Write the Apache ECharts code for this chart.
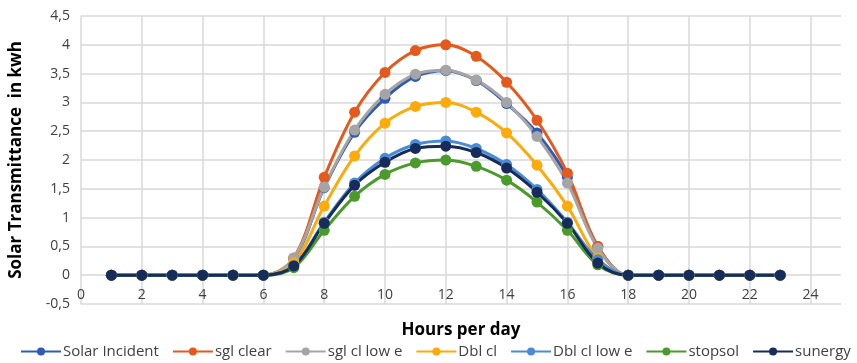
<!DOCTYPE html>
<html>
<head>
<meta charset="utf-8">
<script src="https://cdn.jsdelivr.net/npm/echarts@6/dist/echarts.min.js"></script>
<style>
  html, body { margin: 0; padding: 0; background: #fff; }
  #chart { width: 857px; height: 363px; }
</style>
</head>
<body>
<div id="chart"></div>
<script>
// Hours of the day (x values)
const hours = [1, 2, 3, 4, 5, 6, 7, 8, 9, 10, 11, 12, 13, 14, 15, 16, 17, 18, 19, 20, 21, 22, 23];

// Hourly transmitted solar energy (kWh) per glazing type
const solarIncident = [0, 0, 0, 0, 0, 0, 0.28, 1.52, 2.48, 3.07, 3.45, 3.55, 3.38, 2.98, 2.47, 1.70, 0.50, 0, 0, 0, 0, 0, 0];
const sglClear      = [0, 0, 0, 0, 0, 0, 0.30, 1.70, 2.83, 3.52, 3.90, 4.00, 3.80, 3.35, 2.69, 1.77, 0.50, 0, 0, 0, 0, 0, 0];
const sglClLowE     = [0, 0, 0, 0, 0, 0, 0.30, 1.53, 2.52, 3.14, 3.49, 3.56, 3.39, 3.00, 2.41, 1.60, 0.47, 0, 0, 0, 0, 0, 0];
const dblCl         = [0, 0, 0, 0, 0, 0, 0.22, 1.20, 2.07, 2.64, 2.93, 3.00, 2.83, 2.47, 1.91, 1.20, 0.30, 0, 0, 0, 0, 0, 0];
const dblClLowE     = [0, 0, 0, 0, 0, 0, 0.17, 0.92, 1.60, 2.03, 2.27, 2.33, 2.20, 1.92, 1.49, 0.92, 0.27, 0, 0, 0, 0, 0, 0];
const stopsol       = [0, 0, 0, 0, 0, 0, 0.13, 0.78, 1.37, 1.75, 1.95, 2.00, 1.89, 1.65, 1.27, 0.78, 0.18, 0, 0, 0, 0, 0, 0];
const sunergy       = [0, 0, 0, 0, 0, 0, 0.16, 0.90, 1.56, 1.96, 2.20, 2.24, 2.13, 1.86, 1.44, 0.90, 0.21, 0, 0, 0, 0, 0, 0];

const seriesNames  = ['Solar Incident', 'sgl clear', 'sgl cl low e', 'Dbl cl', 'Dbl cl low e', 'stopsol', 'sunergy'];
const seriesValues = [solarIncident, sglClear, sglClLowE, dblCl, dblClLowE, stopsol, sunergy];
const seriesColors = ['#2f5bb7', '#e5591c', '#a5a5a5', '#fdaa0b', '#4a8bd6', '#4a9a2c', '#172c5a'];

const font = '"Open Sans", "Liberation Sans", sans-serif';
const comma = v => String(v).replace('.', ',');

const chart = echarts.init(document.getElementById('chart'));
chart.setOption({
  animation: false,
  backgroundColor: '#fff',
  grid: { left: 81, right: 16, top: 16, bottom: 59, outerBoundsMode: 'none', containLabel: false },
  xAxis: {
    type: 'value',
    min: 0, max: 25, interval: 2,
    name: 'Hours per day',
    nameLocation: 'middle',
    nameGap: 18,
    nameTextStyle: { fontFamily: font, fontWeight: 'bold', fontSize: 17, color: '#000' },
    axisLine: { show: false, onZero: false },
    axisTick: { show: false },
    // hour labels sit just under the zero line, inside the plot
    axisLabel: { fontFamily: font, fontSize: 14, color: '#404040', margin: -16, showMaxLabel: false },
    splitLine: { show: true, showMaxLine: false, lineStyle: { color: '#d9d9d9', width: 1.5 } }
  },
  yAxis: {
    type: 'value',
    min: -0.5, max: 4.5, interval: 0.5,
    name: 'Solar Transmittance  in kwh',
    nameLocation: 'middle',
    nameGap: 56,
    nameTextStyle: { fontFamily: font, fontWeight: 'bold', fontSize: 17, color: '#000' },
    axisLine: { show: false },
    axisTick: { show: false },
    axisLabel: { fontFamily: font, fontSize: 14, color: '#404040', margin: 11, formatter: comma },
    splitLine: { show: true, lineStyle: { color: '#d9d9d9', width: 1.5 } }
  },
  legend: {
    bottom: 4,
    left: 20,
    width: 837,
    padding: 0,
    itemGap: 13,
    itemWidth: 40,
    itemHeight: 10,
    textStyle: { fontFamily: font, fontSize: 15, color: '#404040', padding: [0, 0, 0, -3] },
    data: seriesNames
  },
  series: seriesNames.map((name, i) => ({
    name,
    type: 'line',
    smooth: 0.35,
    symbol: 'circle',
    symbolSize: 11,
    color: seriesColors[i],
    lineStyle: { width: 3, color: seriesColors[i] },
    itemStyle: { color: seriesColors[i] },
    data: hours.map((h, k) => [h, seriesValues[i][k]])
  }))
});
</script>
</body>
</html>
